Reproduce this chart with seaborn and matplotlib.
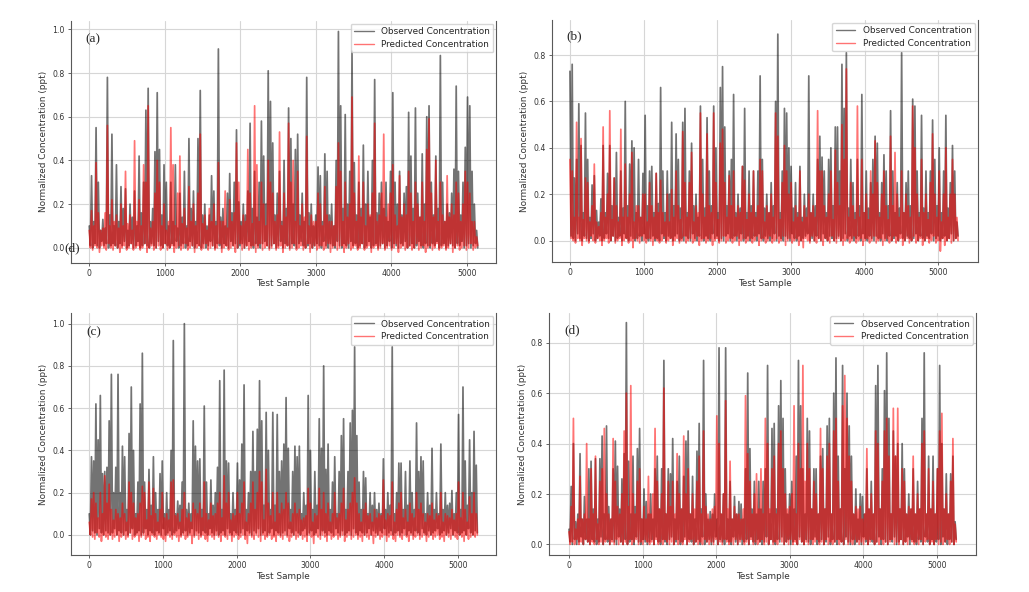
import numpy as np
import pandas as pd
import seaborn as sns
import matplotlib
matplotlib.use("Agg")
import matplotlib.pyplot as plt

# values: for every 30-sample bin the spike top (peak)
# and the floor the trace drops back to between spikes (low)
step = 30

# (a)
obs_a = [0.10, 0.33, 0.12, 0.55, 0.30, 0.08, 0.13, 0.09, 0.78, 0.15,
         0.52, 0.10, 0.38, 0.12, 0.28, 0.18, 0.27, 0.08, 0.20, 0.14,
         0.26, 0.10, 0.42, 0.16, 0.30, 0.63, 0.73, 0.12, 0.18, 0.44,
         0.71, 0.45, 0.15, 0.38, 0.30, 0.10, 0.30, 0.12, 0.38, 0.09,
         0.25, 0.14, 0.35, 0.10, 0.50, 0.18, 0.26, 0.12, 0.50, 0.72,
         0.15, 0.20, 0.10, 0.15, 0.33, 0.26, 0.12, 0.91, 0.14, 0.18,
         0.10, 0.25, 0.34, 0.16, 0.30, 0.54, 0.21, 0.12, 0.20, 0.15,
         0.26, 0.57, 0.18, 0.35, 0.14, 0.30, 0.58, 0.42, 0.20, 0.81,
         0.67, 0.48, 0.15, 0.25, 0.35, 0.12, 0.40, 0.18, 0.64, 0.50,
         0.20, 0.45, 0.52, 0.15, 0.25, 0.12, 0.78, 0.16, 0.20, 0.10,
         0.15, 0.37, 0.33, 0.12, 0.43, 0.35, 0.15, 0.20, 0.10, 0.40,
         0.99, 0.65, 0.18, 0.61, 0.20, 0.35, 0.90, 0.39, 0.15, 0.30,
         0.18, 0.47, 0.20, 0.35, 0.14, 0.40, 0.77, 0.16, 0.25, 0.30,
         0.18, 0.30, 0.12, 0.35, 0.71, 0.30, 0.20, 0.35, 0.15, 0.25,
         0.28, 0.62, 0.42, 0.18, 0.64, 0.25, 0.14, 0.43, 0.20, 0.60,
         0.65, 0.30, 0.15, 0.42, 0.18, 0.88, 0.30, 0.12, 0.20, 0.16,
         0.25, 0.36, 0.74, 0.35, 0.15, 0.30, 0.46, 0.69, 0.65, 0.35,
         0.20, 0.08]
obs_a_low = [0.01, 0.00, 0.02, 0.01, 0.00, 0.03, 0.01, 0.02, 0.00, 0.01,
             0.02, 0.01, 0.00, 0.02, 0.01, 0.03, 0.00, 0.01, 0.02, 0.00,
             0.01, 0.03, 0.00, 0.01, 0.02, 0.01, 0.00, 0.02, 0.01, 0.00,
             0.03, 0.01, 0.00, 0.02, 0.01, 0.00, 0.02, 0.01, 0.03, 0.00,
             0.01, 0.02, 0.00, 0.01, 0.03, 0.01, 0.00, 0.02, 0.01, 0.00,
             0.02, 0.00, 0.01, 0.03, 0.01, 0.00, 0.02, 0.01, 0.00, 0.02,
             0.01, 0.00, 0.03, 0.01, 0.02, 0.00, 0.01, 0.02, 0.00, 0.01,
             0.03, 0.01, 0.00, 0.02, 0.01, 0.00, 0.02, 0.03, 0.01, 0.00,
             0.01, 0.02, 0.00, 0.01, 0.03, 0.00, 0.02, 0.01, 0.00, 0.02,
             0.01, 0.00, 0.02, 0.03, 0.01, 0.00, 0.01, 0.02, 0.00, 0.01,
             0.02, 0.01, 0.00, 0.03, 0.01, 0.00, 0.02, 0.01, 0.00, 0.03,
             0.01, 0.00, 0.02, 0.01, 0.00, 0.03, 0.01, 0.02, 0.00, 0.01,
             0.02, 0.00, 0.01, 0.03, 0.00, 0.01, 0.02, 0.00, 0.01, 0.02,
             0.00, 0.01, 0.03, 0.00, 0.02, 0.01, 0.00, 0.02, 0.01, 0.03,
             0.00, 0.01, 0.02, 0.00, 0.01, 0.03, 0.01, 0.00, 0.02, 0.01,
             0.00, 0.02, 0.01, 0.03, 0.00, 0.01, 0.02, 0.00, 0.01, 0.02,
             0.01, 0.00, 0.02, 0.01, 0.03, 0.00, 0.01, 0.02, 0.00, 0.01,
             0.02, 0.00]
pred_a = [0.08, 0.17, 0.10, 0.39, 0.16, 0.08, 0.09, 0.16, 0.56, 0.10,
          0.22, 0.12, 0.15, 0.09, 0.20, 0.10, 0.35, 0.11, 0.15, 0.08,
          0.49, 0.12, 0.22, 0.10, 0.38, 0.30, 0.65, 0.09, 0.12, 0.25,
          0.40, 0.30, 0.10, 0.20, 0.08, 0.12, 0.55, 0.38, 0.10, 0.25,
          0.42, 0.11, 0.18, 0.09, 0.28, 0.12, 0.20, 0.10, 0.25, 0.52,
          0.11, 0.15, 0.08, 0.18, 0.12, 0.20, 0.10, 0.39, 0.12, 0.12,
          0.26, 0.09, 0.22, 0.12, 0.16, 0.48, 0.30, 0.10, 0.15, 0.12,
          0.45, 0.25, 0.11, 0.65, 0.38, 0.12, 0.30, 0.20, 0.10, 0.40,
          0.30, 0.25, 0.12, 0.15, 0.53, 0.10, 0.25, 0.14, 0.57, 0.30,
          0.40, 0.12, 0.35, 0.10, 0.20, 0.14, 0.51, 0.10, 0.15, 0.12,
          0.12, 0.25, 0.20, 0.10, 0.28, 0.15, 0.12, 0.12, 0.10, 0.28,
          0.48, 0.35, 0.12, 0.30, 0.14, 0.20, 0.69, 0.25, 0.12, 0.42,
          0.14, 0.30, 0.10, 0.20, 0.15, 0.25, 0.57, 0.12, 0.15, 0.25,
          0.52, 0.14, 0.20, 0.25, 0.38, 0.15, 0.10, 0.33, 0.14, 0.20,
          0.15, 0.35, 0.25, 0.12, 0.30, 0.20, 0.14, 0.30, 0.12, 0.45,
          0.59, 0.25, 0.14, 0.40, 0.12, 0.30, 0.15, 0.12, 0.33, 0.14,
          0.20, 0.15, 0.30, 0.25, 0.12, 0.20, 0.35, 0.30, 0.25, 0.12,
          0.12, 0.05]
pred_a_low = [0.00, -0.01, 0.01, 0.00, -0.02, 0.01, 0.00, -0.01, 0.02, 0.00,
              -0.01, 0.01, 0.00, -0.02, 0.00, 0.01, -0.01, 0.00, 0.02, -0.01,
              0.00, 0.01, -0.01, 0.00, 0.02, -0.02, 0.00, 0.01, -0.01, 0.00,
              0.01, -0.01, 0.00, 0.02, -0.01, 0.00, 0.01, -0.02, 0.00, 0.01,
              -0.01, 0.00, 0.02, -0.01, 0.00, 0.01, -0.02, 0.00, 0.01, -0.01,
              0.00, 0.02, -0.01, 0.00, 0.01, -0.01, 0.00, 0.02, -0.02, 0.00,
              0.01, -0.01, 0.00, 0.01, -0.02, 0.00, 0.02, -0.01, 0.00, 0.01,
              -0.01, 0.00, 0.01, -0.02, 0.00, 0.02, -0.01, 0.00, 0.01, -0.01,
              0.00, 0.02, -0.01, 0.00, 0.01, -0.02, 0.00, 0.01, -0.01, 0.00,
              0.02, -0.01, 0.00, 0.01, -0.01, 0.00, 0.02, -0.02, 0.00, 0.01,
              -0.01, 0.00, 0.01, -0.01, 0.00, 0.02, -0.02, 0.00, 0.01, -0.01,
              0.00, 0.01, -0.02, 0.00, 0.02, -0.01, 0.00, 0.01, -0.01, 0.00,
              0.02, -0.01, 0.00, 0.01, -0.02, 0.00, 0.01, -0.01, 0.00, 0.02,
              -0.01, 0.00, 0.01, -0.01, 0.00, 0.02, -0.02, 0.00, 0.01, -0.01,
              0.00, 0.01, -0.01, 0.00, 0.02, -0.01, 0.00, 0.01, -0.02, 0.00,
              0.01, -0.01, 0.00, 0.02, -0.01, 0.00, 0.01, -0.01, 0.00, 0.02,
              -0.02, 0.00, 0.01, -0.01, 0.00, 0.01, -0.01, 0.00, 0.02, -0.01,
              0.00, 0.01]

# (b)
obs_b = [0.73, 0.76, 0.27, 0.35, 0.59, 0.41, 0.12, 0.55, 0.35, 0.10,
         0.24, 0.28, 0.13, 0.08, 0.18, 0.41, 0.12, 0.29, 0.41, 0.15,
         0.27, 0.38, 0.10, 0.30, 0.14, 0.60, 0.15, 0.33, 0.43, 0.40,
         0.12, 0.35, 0.10, 0.29, 0.54, 0.15, 0.30, 0.32, 0.12, 0.29,
         0.16, 0.66, 0.30, 0.12, 0.30, 0.20, 0.51, 0.15, 0.46, 0.35,
         0.14, 0.51, 0.57, 0.12, 0.30, 0.42, 0.15, 0.20, 0.10, 0.58,
         0.35, 0.14, 0.53, 0.30, 0.15, 0.58, 0.40, 0.12, 0.66, 0.75,
         0.49, 0.15, 0.30, 0.35, 0.63, 0.12, 0.20, 0.14, 0.32, 0.57,
         0.12, 0.30, 0.15, 0.30, 0.12, 0.30, 0.71, 0.35, 0.14, 0.20,
         0.12, 0.25, 0.15, 0.60, 0.89, 0.12, 0.30, 0.57, 0.55, 0.40,
         0.32, 0.14, 0.25, 0.12, 0.32, 0.10, 0.20, 0.14, 0.71, 0.12,
         0.20, 0.15, 0.35, 0.45, 0.36, 0.30, 0.12, 0.35, 0.40, 0.15,
         0.49, 0.49, 0.30, 0.76, 0.57, 0.81, 0.14, 0.35, 0.25, 0.12,
         0.35, 0.15, 0.63, 0.12, 0.30, 0.14, 0.25, 0.35, 0.45, 0.42,
         0.12, 0.25, 0.37, 0.30, 0.15, 0.56, 0.30, 0.12, 0.25, 0.14,
         0.81, 0.12, 0.25, 0.30, 0.15, 0.61, 0.58, 0.30, 0.12, 0.54,
         0.14, 0.30, 0.12, 0.30, 0.52, 0.35, 0.15, 0.40, 0.12, 0.30,
         0.54, 0.14, 0.25, 0.41, 0.30, 0.08]
obs_b_low = [0.02, 0.01, 0.00, 0.03, 0.01, 0.00, 0.02, 0.01, 0.00, 0.01,
             0.03, 0.00, 0.01, 0.02, 0.00, 0.01, 0.03, 0.01, 0.00, 0.02,
             0.00, 0.01, 0.02, 0.00, 0.03, 0.01, 0.00, 0.02, 0.01, 0.00,
             0.01, 0.02, 0.00, 0.03, 0.01, 0.00, 0.01, 0.02, 0.00, 0.01,
             0.00, 0.03, 0.01, 0.00, 0.02, 0.01, 0.00, 0.02, 0.03, 0.00,
             0.01, 0.00, 0.02, 0.01, 0.00, 0.03, 0.01, 0.00, 0.02, 0.01,
             0.00, 0.02, 0.01, 0.00, 0.03, 0.01, 0.02, 0.00, 0.01, 0.00,
             0.02, 0.03, 0.00, 0.01, 0.02, 0.00, 0.01, 0.03, 0.00, 0.01,
             0.02, 0.00, 0.01, 0.02, 0.00, 0.03, 0.01, 0.00, 0.02, 0.01,
             0.00, 0.01, 0.03, 0.00, 0.02, 0.01, 0.00, 0.02, 0.01, 0.00,
             0.03, 0.01, 0.00, 0.02, 0.00, 0.01, 0.02, 0.03, 0.00, 0.01,
             0.00, 0.02, 0.01, 0.00, 0.03, 0.01, 0.00, 0.02, 0.01, 0.00,
             0.01, 0.02, 0.00, 0.01, 0.03, 0.00, 0.02, 0.01, 0.00, 0.01,
             0.02, 0.00, 0.03, 0.01, 0.00, 0.02, 0.01, 0.00, 0.02, 0.01,
             0.00, 0.03, 0.01, 0.00, 0.02, 0.00, 0.01, 0.02, 0.00, 0.03,
             0.01, 0.00, 0.02, 0.01, 0.00, 0.01, 0.03, 0.00, 0.02, 0.01,
             0.00, 0.02, 0.01, 0.03, 0.00, 0.01, 0.02, 0.00, 0.01, 0.02,
             0.00, 0.01, 0.03, 0.00, 0.01, 0.02]
pred_b = [0.35, 0.30, 0.10, 0.51, 0.10, 0.44, 0.09, 0.27, 0.25, 0.08,
          0.15, 0.33, 0.08, 0.06, 0.12, 0.49, 0.10, 0.20, 0.56, 0.09,
          0.27, 0.15, 0.08, 0.48, 0.10, 0.33, 0.10, 0.20, 0.38, 0.08,
          0.15, 0.15, 0.10, 0.20, 0.20, 0.08, 0.25, 0.15, 0.10, 0.29,
          0.12, 0.26, 0.12, 0.08, 0.20, 0.08, 0.22, 0.10, 0.30, 0.15,
          0.09, 0.47, 0.25, 0.10, 0.25, 0.38, 0.08, 0.15, 0.12, 0.55,
          0.20, 0.10, 0.46, 0.15, 0.12, 0.55, 0.25, 0.09, 0.42, 0.48,
          0.25, 0.10, 0.28, 0.15, 0.30, 0.10, 0.15, 0.12, 0.32, 0.26,
          0.09, 0.20, 0.12, 0.30, 0.10, 0.15, 0.35, 0.30, 0.08, 0.15,
          0.12, 0.20, 0.10, 0.55, 0.45, 0.09, 0.25, 0.41, 0.30, 0.20,
          0.25, 0.08, 0.15, 0.10, 0.30, 0.08, 0.15, 0.10, 0.20, 0.12,
          0.15, 0.10, 0.56, 0.30, 0.30, 0.15, 0.10, 0.20, 0.30, 0.09,
          0.39, 0.25, 0.15, 0.50, 0.35, 0.74, 0.10, 0.25, 0.15, 0.09,
          0.58, 0.10, 0.35, 0.12, 0.20, 0.09, 0.30, 0.20, 0.43, 0.25,
          0.10, 0.20, 0.30, 0.15, 0.09, 0.45, 0.15, 0.38, 0.20, 0.10,
          0.30, 0.12, 0.20, 0.15, 0.10, 0.58, 0.40, 0.20, 0.10, 0.35,
          0.12, 0.20, 0.09, 0.25, 0.46, 0.20, 0.10, 0.30, 0.08, 0.20,
          0.40, 0.10, 0.20, 0.35, 0.20, 0.10]
pred_b_low = [0.01, 0.00, -0.01, 0.01, 0.00, -0.02, 0.01, 0.00, -0.01, 0.02,
              0.00, -0.01, 0.01, 0.00, -0.02, 0.00, 0.01, -0.01, 0.00, 0.02,
              -0.01, 0.00, 0.01, -0.02, 0.00, 0.01, -0.01, 0.00, -0.03, 0.01,
              0.00, -0.01, 0.02, 0.00, -0.01, 0.01, 0.00, -0.02, 0.01, 0.00,
              -0.01, 0.00, 0.02, -0.01, 0.00, 0.01, -0.02, 0.00, 0.01, -0.01,
              0.00, 0.02, -0.01, 0.00, 0.01, -0.01, 0.00, 0.02, -0.02, 0.00,
              0.01, -0.01, 0.00, 0.01, -0.02, 0.00, 0.01, -0.01, 0.00, 0.02,
              -0.01, 0.00, 0.01, -0.01, 0.00, 0.02, -0.02, 0.00, 0.01, -0.01,
              0.00, 0.01, -0.01, 0.00, 0.02, -0.02, 0.00, 0.01, -0.01, 0.00,
              0.02, -0.01, 0.00, 0.01, -0.01, 0.00, 0.02, -0.02, 0.00, 0.01,
              -0.01, 0.00, 0.01, -0.02, 0.00, -0.03, 0.01, 0.00, -0.01, 0.02,
              0.00, -0.01, 0.01, 0.00, -0.02, 0.01, 0.00, -0.01, 0.02, 0.00,
              -0.01, 0.01, 0.00, -0.02, 0.00, 0.01, -0.01, 0.00, 0.02, -0.01,
              0.00, 0.01, -0.02, 0.00, 0.01, -0.01, 0.00, 0.02, -0.01, 0.00,
              0.01, -0.02, 0.00, 0.01, -0.01, 0.00, 0.02, -0.01, 0.00, 0.01,
              -0.02, 0.00, 0.01, -0.01, 0.00, 0.02, -0.01, 0.00, 0.01, -0.02,
              0.00, 0.01, -0.01, 0.00, 0.02, -0.01, 0.00, -0.045, 0.01, -0.02,
              0.00, 0.01, -0.01, 0.00, 0.01, 0.00]

# (c)
obs_c = [0.10, 0.37, 0.35, 0.62, 0.45, 0.66, 0.29, 0.30, 0.32, 0.54,
         0.76, 0.20, 0.32, 0.76, 0.20, 0.42, 0.37, 0.12, 0.48, 0.70,
         0.40, 0.10, 0.25, 0.62, 0.86, 0.25, 0.12, 0.31, 0.14, 0.37,
         0.20, 0.12, 0.29, 0.35, 0.10, 0.20, 0.12, 0.40, 0.92, 0.10,
         0.16, 0.14, 0.25, 1.00, 0.12, 0.15, 0.10, 0.54, 0.42, 0.35,
         0.36, 0.12, 0.61, 0.25, 0.10, 0.26, 0.14, 0.20, 0.32, 0.73,
         0.12, 0.78, 0.35, 0.34, 0.10, 0.20, 0.12, 0.34, 0.26, 0.43,
         0.71, 0.12, 0.20, 0.30, 0.49, 0.30, 0.50, 0.73, 0.54, 0.14,
         0.58, 0.40, 0.12, 0.58, 0.14, 0.57, 0.30, 0.35, 0.43, 0.65,
         0.41, 0.12, 0.30, 0.42, 0.37, 0.42, 0.10, 0.20, 0.14, 0.66,
         0.40, 0.12, 0.30, 0.14, 0.55, 0.41, 0.80, 0.31, 0.43, 0.12,
         0.25, 0.37, 0.10, 0.30, 0.47, 0.55, 0.12, 0.30, 0.53, 0.59,
         0.89, 0.47, 0.25, 0.12, 0.30, 0.27, 0.10, 0.20, 0.14, 0.20,
         0.12, 0.15, 0.10, 0.36, 0.12, 0.20, 0.14, 0.89, 0.10, 0.20,
         0.34, 0.34, 0.12, 0.30, 0.14, 0.35, 0.20, 0.12, 0.53, 0.30,
         0.37, 0.35, 0.10, 0.20, 0.14, 0.41, 0.12, 0.20, 0.10, 0.43,
         0.12, 0.20, 0.14, 0.15, 0.21, 0.10, 0.20, 0.57, 0.12, 0.70,
         0.35, 0.14, 0.45, 0.20, 0.49, 0.33]
obs_c_low = [0.00, 0.02, 0.01, 0.00, 0.03, 0.01, 0.00, 0.02, 0.01, 0.00,
             0.01, 0.03, 0.00, 0.02, 0.01, 0.00, 0.02, 0.00, 0.01, 0.03,
             0.00, 0.01, 0.02, 0.00, 0.01, 0.03, 0.00, 0.02, 0.01, 0.00,
             0.02, 0.01, 0.00, 0.03, 0.00, 0.01, 0.02, 0.00, 0.01, 0.02,
             0.03, 0.00, 0.01, 0.02, 0.00, 0.01, 0.03, 0.00, 0.02, 0.01,
             0.00, 0.02, 0.01, 0.00, 0.03, 0.01, 0.00, 0.02, 0.00, 0.01,
             0.02, 0.00, 0.03, 0.01, 0.00, 0.02, 0.01, 0.00, 0.01, 0.03,
             0.00, 0.02, 0.01, 0.00, 0.02, 0.01, 0.03, 0.00, 0.01, 0.02,
             0.00, 0.01, 0.03, 0.00, 0.02, 0.01, 0.00, 0.01, 0.02, 0.00,
             0.03, 0.01, 0.00, 0.02, 0.01, 0.00, 0.02, 0.03, 0.00, 0.01,
             0.02, 0.00, 0.01, 0.03, 0.00, 0.02, 0.01, 0.00, 0.02, 0.01,
             0.00, 0.03, 0.01, 0.00, 0.02, 0.00, 0.01, 0.02, 0.00, 0.03,
             0.01, 0.00, 0.02, 0.01, 0.00, 0.01, 0.03, 0.00, 0.02, 0.01,
             0.00, 0.02, 0.01, 0.03, 0.00, 0.01, 0.02, 0.00, 0.01, 0.02,
             0.00, 0.01, 0.03, 0.00, 0.02, 0.01, 0.00, 0.02, 0.01, 0.00,
             0.03, 0.01, 0.00, 0.02, 0.00, 0.01, 0.02, 0.03, 0.00, 0.01,
             0.02, 0.00, 0.01, 0.03, 0.00, 0.02, 0.01, 0.00, 0.01, 0.02,
             0.00, 0.03, 0.01, 0.00, 0.02, 0.01]
pred_c = [0.06, 0.17, 0.20, 0.15, 0.08, 0.20, 0.10, 0.28, 0.15, 0.24,
          0.12, 0.07, 0.12, 0.10, 0.08, 0.15, 0.10, 0.06, 0.25, 0.20,
          0.15, 0.08, 0.10, 0.15, 0.23, 0.20, 0.07, 0.25, 0.09, 0.22,
          0.10, 0.06, 0.12, 0.20, 0.08, 0.10, 0.07, 0.25, 0.26, 0.09,
          0.10, 0.06, 0.12, 0.20, 0.08, 0.10, 0.06, 0.15, 0.12, 0.10,
          0.15, 0.08, 0.25, 0.10, 0.07, 0.15, 0.09, 0.10, 0.15, 0.20,
          0.08, 0.28, 0.15, 0.20, 0.07, 0.10, 0.09, 0.20, 0.10, 0.15,
          0.25, 0.06, 0.10, 0.15, 0.25, 0.12, 0.20, 0.30, 0.25, 0.07,
          0.31, 0.15, 0.09, 0.20, 0.06, 0.20, 0.10, 0.15, 0.12, 0.20,
          0.15, 0.06, 0.10, 0.15, 0.10, 0.12, 0.07, 0.08, 0.09, 0.22,
          0.15, 0.06, 0.10, 0.09, 0.22, 0.12, 0.20, 0.10, 0.15, 0.06,
          0.10, 0.20, 0.08, 0.10, 0.15, 0.22, 0.07, 0.12, 0.15, 0.20,
          0.27, 0.15, 0.10, 0.06, 0.12, 0.15, 0.09, 0.10, 0.06, 0.12,
          0.08, 0.10, 0.09, 0.26, 0.07, 0.10, 0.09, 0.25, 0.06, 0.12,
          0.15, 0.20, 0.08, 0.12, 0.06, 0.15, 0.10, 0.08, 0.20, 0.12,
          0.15, 0.10, 0.06, 0.10, 0.09, 0.15, 0.07, 0.10, 0.09, 0.20,
          0.06, 0.10, 0.09, 0.08, 0.12, 0.07, 0.10, 0.25, 0.08, 0.20,
          0.12, 0.06, 0.18, 0.10, 0.20, 0.10]
pred_c_low = [0.00, -0.01, -0.02, 0.01, -0.01, -0.03, 0.00, -0.01, -0.02, 0.00,
              -0.02, -0.01, 0.00, -0.03, -0.01, 0.00, -0.02, -0.01, 0.01, -0.02,
              -0.01, 0.00, -0.03, -0.01, 0.00, -0.02, -0.01, -0.03, 0.00, -0.01,
              -0.02, 0.00, -0.01, -0.02, -0.03, 0.00, -0.01, -0.02, 0.00, -0.01,
              -0.03, -0.01, 0.00, -0.02, -0.01, 0.00, -0.04, -0.01, 0.00, -0.02,
              -0.01, 0.00, -0.02, -0.03, 0.00, -0.01, -0.02, 0.00, -0.01, -0.03,
              0.00, -0.01, -0.02, 0.00, -0.03, -0.01, 0.00, -0.02, -0.01, 0.00,
              -0.02, -0.04, 0.00, -0.01, -0.02, 0.00, -0.01, -0.03, 0.00, -0.02,
              -0.01, 0.00, -0.02, -0.01, -0.03, 0.00, -0.01, -0.02, 0.00, -0.01,
              -0.03, -0.01, 0.00, -0.02, -0.01, 0.00, -0.02, -0.01, -0.03, 0.00,
              -0.01, -0.04, 0.00, -0.01, -0.02, 0.00, -0.01, -0.03, 0.00, -0.02,
              -0.01, 0.00, -0.02, -0.01, 0.00, -0.03, -0.01, 0.00, -0.02, -0.01,
              0.00, -0.02, -0.01, -0.03, 0.00, -0.01, -0.02, 0.00, -0.04, -0.01,
              0.00, -0.02, -0.01, 0.00, -0.03, -0.01, 0.00, -0.02, -0.03, 0.00,
              -0.01, -0.02, 0.00, -0.01, -0.03, 0.00, -0.02, -0.01, 0.00, -0.02,
              -0.01, 0.00, -0.03, -0.01, 0.00, -0.02, -0.01, 0.00, -0.02, -0.01,
              -0.03, 0.00, -0.01, -0.02, 0.00, -0.01, -0.02, 0.00, -0.01, -0.03,
              0.00, -0.02, -0.01, 0.00, -0.01, 0.00]

# (d)
obs_d = [0.06, 0.23, 0.40, 0.09, 0.12, 0.36, 0.10, 0.19, 0.10, 0.30,
         0.33, 0.14, 0.34, 0.10, 0.34, 0.43, 0.12, 0.47, 0.15, 0.10,
         0.30, 0.41, 0.31, 0.14, 0.26, 0.36, 0.88, 0.33, 0.12, 0.35,
         0.15, 0.38, 0.46, 0.10, 0.22, 0.17, 0.12, 0.20, 0.10, 0.30,
         0.35, 0.14, 0.30, 0.73, 0.12, 0.30, 0.28, 0.42, 0.10, 0.25,
         0.35, 0.14, 0.27, 0.41, 0.45, 0.12, 0.27, 0.10, 0.37, 0.48,
         0.14, 0.73, 0.20, 0.10, 0.13, 0.12, 0.20, 0.10, 0.78, 0.12,
         0.20, 0.78, 0.10, 0.25, 0.10, 0.19, 0.12, 0.17, 0.16, 0.10,
         0.30, 0.68, 0.38, 0.14, 0.25, 0.12, 0.25, 0.14, 0.25, 0.30,
         0.71, 0.12, 0.46, 0.48, 0.14, 0.55, 0.65, 0.50, 0.30, 0.12,
         0.20, 0.25, 0.14, 0.35, 0.73, 0.55, 0.30, 0.12, 0.50, 0.45,
         0.14, 0.30, 0.30, 0.12, 0.35, 0.38, 0.14, 0.47, 0.50, 0.12,
         0.60, 0.74, 0.35, 0.14, 0.71, 0.30, 0.60, 0.47, 0.35, 0.12,
         0.22, 0.10, 0.20, 0.19, 0.12, 0.30, 0.14, 0.25, 0.12, 0.63,
         0.71, 0.14, 0.30, 0.61, 0.76, 0.50, 0.12, 0.45, 0.35, 0.40,
         0.14, 0.40, 0.30, 0.12, 0.20, 0.14, 0.30, 0.12, 0.25, 0.14,
         0.50, 0.76, 0.12, 0.35, 0.14, 0.35, 0.12, 0.30, 0.71, 0.40,
         0.14, 0.28, 0.12, 0.28, 0.35, 0.09]
obs_d_low = [0.01, 0.00, 0.02, 0.00, 0.01, 0.03, 0.00, 0.02, 0.01, 0.00,
             0.02, 0.01, 0.00, 0.01, 0.03, 0.00, 0.02, 0.01, 0.00, 0.02,
             0.01, 0.00, 0.03, 0.01, 0.00, 0.02, 0.00, 0.01, 0.02, 0.00,
             0.03, 0.01, 0.00, 0.02, 0.01, 0.00, 0.01, 0.02, 0.00, 0.03,
             0.01, 0.00, 0.02, 0.01, 0.00, 0.02, 0.03, 0.00, 0.01, 0.02,
             0.00, 0.01, 0.03, 0.00, 0.02, 0.01, 0.00, 0.01, 0.02, 0.00,
             0.03, 0.00, 0.01, 0.02, 0.00, 0.01, 0.03, 0.00, 0.02, 0.01,
             0.00, 0.02, 0.01, 0.00, 0.03, 0.01, 0.00, 0.02, 0.00, 0.01,
             0.02, 0.00, 0.03, 0.01, 0.00, 0.02, 0.01, 0.00, 0.01, 0.03,
             0.00, 0.02, 0.01, 0.00, 0.02, 0.01, 0.03, 0.00, 0.01, 0.02,
             0.00, 0.01, 0.02, 0.00, 0.03, 0.01, 0.00, 0.02, 0.01, 0.00,
             0.02, 0.03, 0.00, 0.01, 0.02, 0.00, 0.01, 0.03, 0.00, 0.02,
             0.01, 0.00, 0.02, 0.01, 0.00, 0.03, 0.01, 0.00, 0.02, 0.00,
             0.01, 0.02, 0.00, 0.03, 0.01, 0.00, 0.02, 0.01, 0.00, 0.01,
             0.03, 0.00, 0.02, 0.01, 0.00, 0.02, 0.01, 0.03, 0.00, 0.01,
             0.02, 0.00, 0.01, 0.03, 0.00, 0.02, 0.01, 0.00, 0.02, 0.01,
             0.00, 0.03, 0.01, 0.00, 0.02, 0.00, 0.01, 0.02, 0.00, 0.03,
             0.01, 0.00, 0.02, 0.01, 0.00, 0.02]
pred_d = [0.05, 0.15, 0.50, 0.06, 0.10, 0.27, 0.10, 0.12, 0.40, 0.10,
          0.30, 0.12, 0.35, 0.08, 0.25, 0.30, 0.46, 0.20, 0.12, 0.10,
          0.42, 0.25, 0.15, 0.12, 0.20, 0.45, 0.60, 0.15, 0.63, 0.20,
          0.12, 0.25, 0.30, 0.10, 0.15, 0.10, 0.27, 0.12, 0.20, 0.46,
          0.25, 0.14, 0.20, 0.62, 0.12, 0.25, 0.15, 0.25, 0.12, 0.36,
          0.20, 0.14, 0.43, 0.20, 0.30, 0.12, 0.20, 0.14, 0.25, 0.35,
          0.12, 0.45, 0.15, 0.12, 0.10, 0.14, 0.15, 0.51, 0.40, 0.12,
          0.20, 0.57, 0.14, 0.33, 0.10, 0.15, 0.12, 0.12, 0.10, 0.14,
          0.59, 0.36, 0.25, 0.12, 0.20, 0.28, 0.14, 0.30, 0.12, 0.50,
          0.40, 0.14, 0.30, 0.35, 0.12, 0.40, 0.45, 0.30, 0.20, 0.14,
          0.15, 0.20, 0.55, 0.12, 0.40, 0.30, 0.71, 0.25, 0.40, 0.30,
          0.14, 0.25, 0.20, 0.12, 0.46, 0.30, 0.14, 0.35, 0.40, 0.12,
          0.45, 0.50, 0.25, 0.14, 0.55, 0.67, 0.50, 0.35, 0.25, 0.12,
          0.15, 0.14, 0.15, 0.10, 0.12, 0.38, 0.14, 0.20, 0.12, 0.45,
          0.40, 0.14, 0.25, 0.45, 0.50, 0.35, 0.12, 0.54, 0.35, 0.54,
          0.14, 0.30, 0.25, 0.12, 0.15, 0.14, 0.35, 0.12, 0.20, 0.14,
          0.40, 0.45, 0.12, 0.30, 0.14, 0.25, 0.12, 0.30, 0.45, 0.52,
          0.14, 0.20, 0.12, 0.25, 0.42, 0.08]
pred_d_low = [0.00, 0.01, 0.00, 0.02, 0.00, 0.01, 0.00, 0.02, 0.01, 0.00,
              0.01, 0.00, 0.02, 0.00, 0.01, 0.00, 0.01, 0.02, 0.00, 0.01,
              0.00, 0.02, 0.00, 0.01, 0.00, 0.01, 0.00, 0.02, 0.00, 0.01,
              0.02, 0.00, 0.01, 0.00, 0.02, 0.01, 0.00, 0.01, 0.00, 0.02,
              0.00, 0.01, 0.00, 0.02, 0.01, 0.00, 0.01, 0.00, 0.02, 0.00,
              0.01, 0.00, 0.02, 0.00, 0.01, 0.02, 0.00, 0.01, 0.00, 0.01,
              0.00, 0.02, 0.01, 0.00, 0.01, 0.00, 0.02, 0.00, 0.01, 0.00,
              0.02, 0.01, 0.00, 0.01, 0.00, 0.02, 0.00, 0.01, 0.02, 0.00,
              0.01, 0.00, 0.02, 0.00, 0.01, 0.00, 0.01, 0.02, 0.00, 0.01,
              0.00, 0.02, 0.00, 0.01, 0.00, 0.02, 0.01, 0.00, 0.01, 0.00,
              0.02, 0.00, 0.01, 0.00, 0.02, 0.01, 0.00, 0.01, 0.00, 0.02,
              0.00, 0.01, 0.02, 0.00, 0.01, 0.00, 0.02, 0.00, 0.01, 0.00,
              0.01, 0.02, 0.00, 0.01, 0.00, 0.02, 0.00, 0.01, 0.00, 0.02,
              0.01, 0.00, 0.01, 0.00, 0.02, 0.00, 0.01, 0.02, 0.00, 0.01,
              0.00, 0.02, 0.00, 0.01, 0.00, 0.01, 0.02, 0.00, 0.01, 0.00,
              0.02, 0.00, 0.01, 0.00, 0.02, 0.01, 0.00, 0.01, 0.00, 0.02,
              0.00, 0.01, 0.02, 0.00, 0.01, 0.00, 0.02, 0.00, 0.01, 0.00,
              0.01, 0.02, 0.00, 0.01, 0.00, 0.01]

panel_labels = ["(a)", "(b)", "(c)", "(d)"]
y_ticks = [[0, 0.2, 0.4, 0.6, 0.8, 1.0], [0, 0.2, 0.4, 0.6, 0.8],
           [0, 0.2, 0.4, 0.6, 0.8, 1.0], [0, 0.2, 0.4, 0.6, 0.8]]
x_ticks = [0, 1000, 2000, 3000, 4000, 5000]

sns.set_style("ticks", {"axes.grid": True, "grid.color": "#d6d6d6"})
plt.rcParams["font.family"] = ["DejaVu Sans"]
fs_tick = 5.6
fs_lab = 6.4

W, H = 1029, 592
fig = plt.figure(figsize=(W / 100, H / 100), dpi=100)

# axes boxes in pixels: left, right, top, bottom
boxes = [(70.7, 496, 21, 262.5), (551.7, 977.7, 20, 262),
         (70.7, 496, 313.3, 555), (549.3, 975.7, 313.3, 555)]
xlims = [(-246, 5387), (-248, 5532), (-252, 5518), (-268, 5530)]
ylims = [(-0.067, 1.038), (-0.092, 0.951), (-0.095, 1.049), (-0.042, 0.917)]
label_pos = [(92.7, 39.3), (574.3, 36), (94, 332.7), (571.7, 330.7)]

series = [(obs_a, obs_a_low, pred_a, pred_a_low),
          (obs_b, obs_b_low, pred_b, pred_b_low),
          (obs_c, obs_c_low, pred_c, pred_c_low),
          (obs_d, obs_d_low, pred_d, pred_d_low)]


def trace(peak, low):
    # spike tops on the bin start, floor half a bin later
    n = len(peak)
    bins = np.arange(n) * step
    df = pd.DataFrame({"sample": np.concatenate([bins, bins + step // 2]),
                       "value": np.concatenate([peak, low])})
    return df.sort_values("sample")


for i, (obs, obs_low, pred, pred_low) in enumerate(series):
    l, r, t, b = boxes[i]
    ax = fig.add_axes([l / W, 1 - b / H, (r - l) / W, (b - t) / H])
    sns.lineplot(data=trace(obs, obs_low), x="sample", y="value", ax=ax,
                 color="black", alpha=0.55, lw=1.25, estimator=None,
                 label="Observed Concentration")
    sns.lineplot(data=trace(pred, pred_low), x="sample", y="value", ax=ax,
                 color="red", alpha=0.55, lw=1.25, estimator=None,
                 label="Predicted Concentration")
    ax.set_xlim(*xlims[i])
    ax.set_ylim(*ylims[i])
    ax.set_xticks(x_ticks)
    ax.set_yticks(y_ticks[i])
    ax.set_yticklabels([f"{v:.1f}" for v in y_ticks[i]])
    ax.tick_params(labelsize=fs_tick, length=2.5, width=0.6, colors="0.3",
                   labelcolor="0.2", pad=2)
    ax.grid(True, color="#d6d6d6", lw=0.8)
    for s in ["left", "bottom", "right"]:
        ax.spines[s].set_color("0.35")
        ax.spines[s].set_linewidth(0.8)
    ax.spines["top"].set_visible(False)
    ax.set_xlabel("Test Sample", fontsize=fs_lab, color="0.2", labelpad=1)
    ax.set_ylabel("Normalized Concentration (ppt)", fontsize=fs_lab,
                  color="0.2", labelpad=3)
    leg = ax.legend(loc="upper right", fontsize=fs_lab, frameon=True,
                    borderaxespad=0.3, handlelength=2.2, labelspacing=0.4)
    for line in leg.get_lines():
        line.set_linewidth(1.0)
    lx, ly = label_pos[i]
    fig.text(lx / W, 1 - ly / H, panel_labels[i], ha="center", va="center",
             fontsize=9.5, family="Liberation Serif")

# stray panel label that sits on the 0.0 tick of panel (a) in the original
fig.text(71.7 / W, 1 - 248.7 / H, "(d)", ha="center", va="center",
         fontsize=9.5, family="Liberation Serif")

fig.savefig("out.png", dpi=100, facecolor="white")
